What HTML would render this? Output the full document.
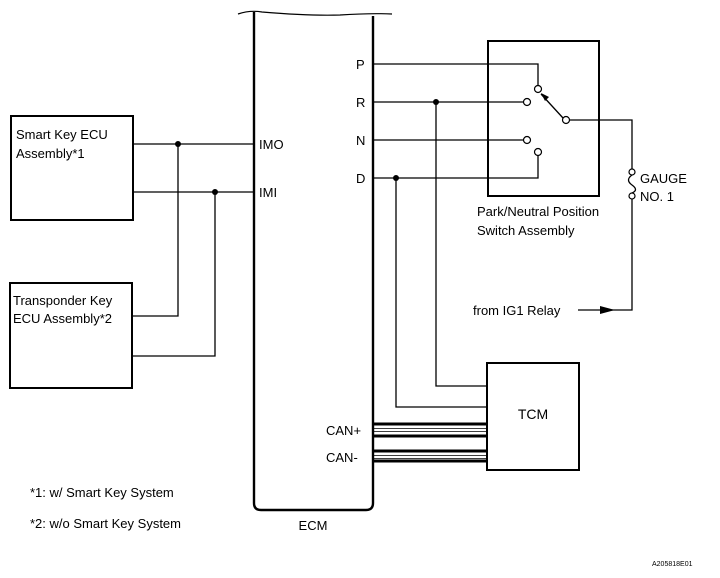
<!DOCTYPE html>
<html><head><meta charset="utf-8"><style>
html,body{margin:0;padding:0;background:#fff;}
svg{display:block;}
text{font-family:"Liberation Sans",sans-serif;fill:#000;}
</style></head><body>
<svg width="720" height="578" viewBox="0 0 720 578" xmlns="http://www.w3.org/2000/svg">
<g fill="none" stroke="#000" stroke-width="1.3">
<!-- ECM -->
<path d="M238 14 Q250 10 262 12 Q310 16 340 15 Q370 13 392 14" stroke-width="1.2"/>
<path d="M254 12 V503 Q254 510 261 510 H366 Q373 510 373 503 V16" stroke-width="2.4"/>
<!-- Smart key box -->
<rect x="11" y="116" width="122" height="104" stroke-width="2"/>
<!-- Transponder box -->
<rect x="10" y="283" width="122" height="105" stroke-width="2"/>
<!-- IMO / IMI -->
<path d="M133 144 H254"/>
<path d="M133 192 H254"/>
<path d="M178 144 V316 H132"/>
<path d="M215 192 V356 H132"/>
<!-- switch box -->
<rect x="488" y="41" width="111" height="155" stroke-width="2"/>
<path d="M373 64 H538 V86"/>
<path d="M373 102 H524"/>
<path d="M373 140 H524"/>
<path d="M373 178 H538 V155"/>
<path d="M563 118 L541 94"/>
<path d="M569 120 H632 V169"/>
<path d="M632 199 V310 H578"/>
<path d="M632 175 Q625 180 632 185 Q639 190 632 193"/>
<!-- R and D to TCM -->
<path d="M436 102 V386 H487"/>
<path d="M396 178 V407 H487"/>
<!-- TCM -->
<rect x="487" y="363" width="92" height="107" stroke-width="2"/>
<!-- CAN -->
<path d="M373 424 H487 M373 436 H487 M373 451 H487 M373 461 H487" stroke-width="3"/>
<path d="M373 428.5 H487 M373 431.5 H487 M373 455.5 H487 M373 458.5 H487" stroke-width="0.8"/>
</g>
<g fill="#fff" stroke="#000" stroke-width="1.2">
<circle cx="538" cy="89" r="3.5"/>
<circle cx="527" cy="102" r="3.5"/>
<circle cx="566" cy="120" r="3.5"/>
<circle cx="527" cy="140" r="3.5"/>
<circle cx="538" cy="152" r="3.5"/>
<circle cx="632" cy="172" r="3"/>
<circle cx="632" cy="196" r="3"/>
</g>
<g fill="#000">
<circle cx="178" cy="144" r="3"/>
<circle cx="215" cy="192" r="3"/>
<circle cx="436" cy="102" r="3"/>
<circle cx="396" cy="178" r="3"/>
<polygon points="541,93 549,97 545,101"/>
<polygon points="615,310 600,306 600,314"/>
</g>
<g font-size="13">
<text x="16" y="139">Smart Key ECU</text>
<text x="16" y="158">Assembly*1</text>
<text x="13" y="305">Transponder Key</text>
<text x="13" y="323">ECU Assembly*2</text>
<text x="259" y="149">IMO</text>
<text x="259" y="197">IMI</text>
<text x="356" y="69">P</text>
<text x="356" y="107">R</text>
<text x="356" y="145">N</text>
<text x="356" y="183">D</text>
<text x="477" y="216">Park/Neutral Position</text>
<text x="477" y="235">Switch Assembly</text>
<text x="640" y="183">GAUGE</text>
<text x="640" y="201">NO. 1</text>
<text x="473" y="315">from IG1 Relay</text>
<text x="533" y="419" text-anchor="middle" font-size="14">TCM</text>
<text x="326" y="435">CAN+</text>
<text x="326" y="462">CAN-</text>
<text x="313" y="530" text-anchor="middle">ECM</text>
<text x="30" y="497">*1: w/ Smart Key System</text>
<text x="30" y="528">*2: w/o Smart Key System</text>
<text x="652" y="566" font-size="7">A205818E01</text>
</g>
</svg>
</body></html>
